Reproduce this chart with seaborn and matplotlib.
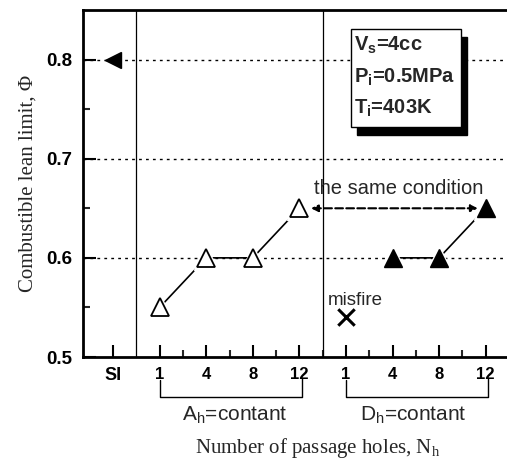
import matplotlib
matplotlib.use("Agg")
import matplotlib.pyplot as plt
import matplotlib.transforms as mtransforms
from matplotlib.patches import Rectangle
import seaborn as sns
import pandas as pd

sns.set_style("ticks")
plt.rcParams['font.family'] = ['Liberation Sans', 'DejaVu Sans']
plt.rcParams['mathtext.fontset'] = 'custom'
plt.rcParams['mathtext.rm'] = 'Liberation Serif'
plt.rcParams['mathtext.sf'] = 'Liberation Sans'
plt.rcParams['mathtext.bf'] = 'Liberation Sans:bold'

# ---- data ----
tick_labels = ["SI", "1", "4", "8", "12", "1", "4", "8", "12"]
si_pos = [0]
si_phi = [0.80]
a_pos = [1, 2, 3, 4]
a_phi = [0.55, 0.60, 0.60, 0.65]
d_pos = [6, 7, 8]
d_phi = [0.60, 0.60, 0.65]
misfire_pos = [5]
misfire_phi = [0.54]
y_major = [0.5, 0.6, 0.7, 0.8]
y_minor = [0.55, 0.65, 0.75]
grid_levels = [0.6, 0.7, 0.8]

fig = plt.figure(figsize=(5.07, 4.67), dpi=100)
ax = fig.add_axes([83/507, 110/467, 426/507, 347/467])

for g in grid_levels:
    ax.axhline(g, color='black', lw=1.0, ls=(0, (2, 3)), zorder=1)
ax.axvline(0.5, color='black', lw=0.9, zorder=1)
ax.axvline(4.5, color='black', lw=0.9, zorder=1)

df_a = pd.DataFrame({"x": a_pos, "y": a_phi})
df_d = pd.DataFrame({"x": d_pos, "y": d_phi})
sns.lineplot(data=df_a, x="x", y="y", color='black', lw=1.2, ax=ax, zorder=2)
sns.lineplot(data=df_d, x="x", y="y", color='black', lw=1.2, ax=ax, zorder=2)

# white halos to create gaps around markers
for dfx in (df_a, df_d):
    ax.plot(dfx["x"], dfx["y"], ls='none', marker='^', ms=17, mfc='white', mec='white', zorder=3)
ax.plot(a_pos, a_phi, ls='none', marker='^', ms=13, mfc='white', mec='black', mew=1.3, zorder=4)
ax.plot(d_pos, d_phi, ls='none', marker='^', ms=13, mfc='black', mec='black', zorder=4)
ax.plot(si_pos, si_phi, ls='none', marker='<', ms=12, mfc='black', mec='black', zorder=4)
sns.scatterplot(x=misfire_pos, y=misfire_phi, marker='x', s=140, color='black', linewidth=2.2, ax=ax, zorder=4)

ax.set_xlim(-0.645, 8.5)
ax.set_ylim(0.5, 0.85)
ax.set_xticks(range(len(tick_labels)))
ax.set_xticklabels(tick_labels, fontweight='bold', fontsize=12)
ax.get_xticklabels()[0].set_fontsize(13)
ax.set_xticks([i + 0.5 for i in range(1, 8)], minor=True)
ax.set_yticks(y_major)
ax.set_yticklabels([f"{v:.1f}" for v in y_major], fontweight='bold', fontsize=13.5)
ax.set_yticks(y_minor, minor=True)
ax.tick_params(axis='both', which='major', direction='in', length=9, width=1.5, colors='black')
ax.tick_params(axis='both', which='minor', direction='in', length=5, width=1.5)
ax.tick_params(axis='x', which='major', pad=7)
ax.tick_params(axis='y', which='major', pad=8)
for s in ax.spines.values():
    s.set_linewidth(2.0)
    s.set_color('black')

ax.set_ylabel("Combustible lean limit, \u03a6", family=['Liberation Serif', 'DejaVu Serif'], fontsize=15, labelpad=6)
ax.set_xlabel("")
fig.text(318/507, (467-448)/467, "Number of passage holes, N$_\\mathrm{h}$",
         family=['Liberation Serif'], fontsize=15, ha='center', va='center')

# brackets below the axis
trans = mtransforms.blended_transform_factory(ax.transData, ax.transAxes)
for x0, x1, xc, lab in [(1, 4, 2.62, "A$_\\mathsf{h}$=contant"), (5, 8, 6.45, "D$_\\mathsf{h}$=contant")]:
    ax.plot([x0, x0, x1 + 0.05, x1 + 0.05], [-0.066, -0.114, -0.114, -0.060], color='black', lw=1.0,
            transform=trans, clip_on=False)
    ax.text(xc, -0.168, lab, transform=trans, ha='center', va='center', fontsize=15)

# annotations
ax.annotate("", xy=(4.25, 0.65), xytext=(7.83, 0.65),
            arrowprops=dict(arrowstyle='<|-|>', color='black', lw=1.5, ls='--',
                            mutation_scale=10, shrinkA=0, shrinkB=0), zorder=3)
ax.text(6.13, 0.6695, "the same condition", ha='center', va='center', fontsize=14.5)
ax.text(5.2, 0.5565, "misfire", ha='center', va='center', fontsize=13.5)

# condition box with shadow
bx, by, bw, bh = 351/507, (467-127)/467, 110/467 * 467/507, 98/467
fig.patches.append(Rectangle((bx + 6/507, by - 8/467), bw, bh, transform=fig.transFigure,
                             facecolor='black', edgecolor='black', zorder=5))
fig.patches.append(Rectangle((bx, by), bw, bh, transform=fig.transFigure,
                             facecolor='white', edgecolor='black', lw=1.0, zorder=6))
for i, (t, yy) in enumerate(zip(["V$_\\mathbf{s}$=4cc", "P$_\\mathbf{i}$=0.5MPa", "T$_\\mathbf{i}$=403K"],
                                [45, 77, 108])):
    fig.text(bx + 3/507, (467 - yy) / 467, t, fontsize=14.5, fontweight='bold',
             ha='left', va='center', zorder=7)

fig.savefig("out.png", dpi=100)
